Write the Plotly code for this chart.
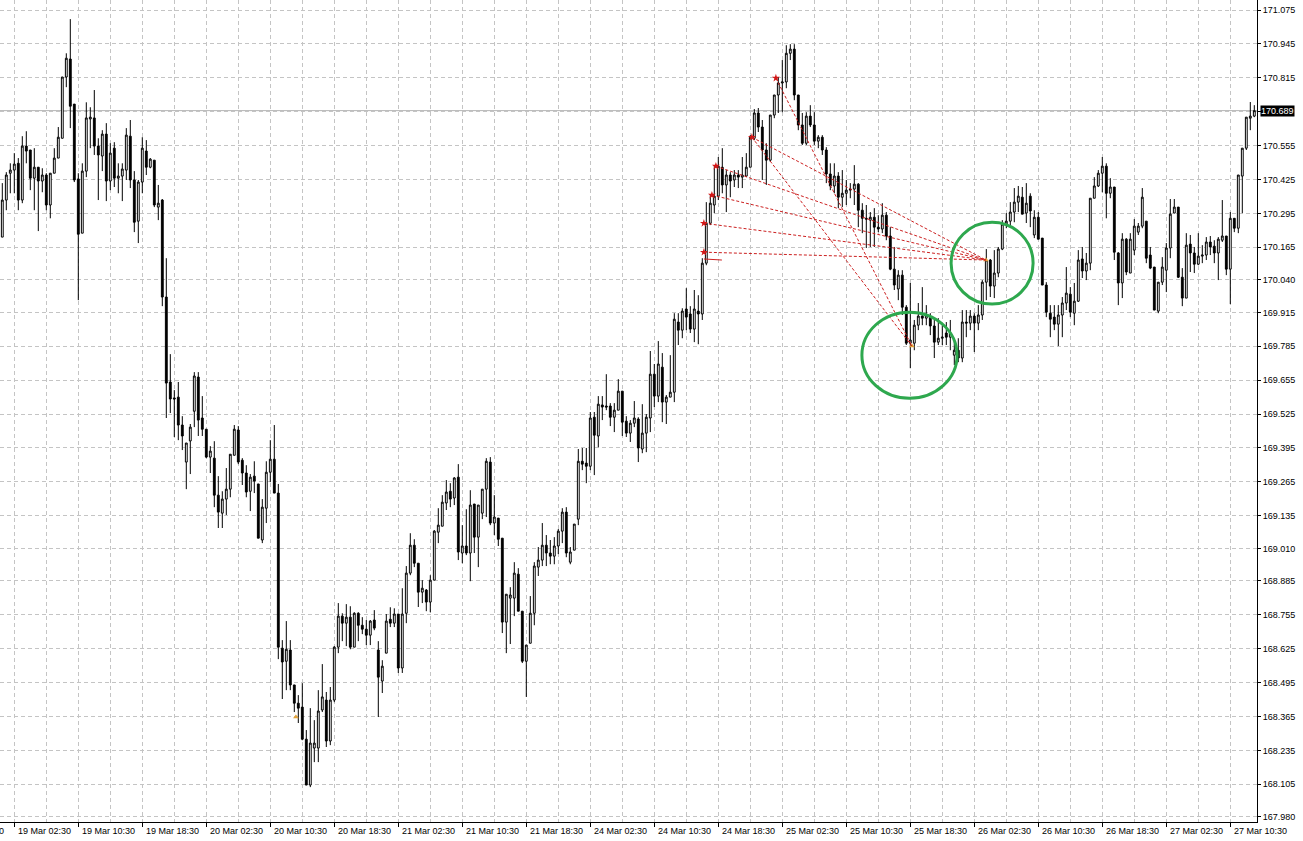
import pandas as pd
import plotly.graph_objects as go

# ---- bar times: 30-minute bars, weekend skipped ----
times = [t for t in pd.date_range("2025-03-19 01:00", "2025-03-27 13:30", freq="30min") if t.weekday() < 5]

open_ = [
170.204,170.346,170.449,170.461,170.487,170.346,170.553,170.538,170.430,170.472,
170.419,170.442,170.327,170.449,170.507,170.583,170.818,170.887,170.714,170.427,
170.219,170.457,170.657,170.661,170.553,170.515,170.599,170.419,170.545,170.430,
170.438,170.461,170.591,170.423,170.265,170.415,170.534,170.472,170.499,170.319,
170.346,169.974,169.648,169.587,169.590,169.483,169.341,169.422,169.536,169.667,
169.510,169.467,169.360,169.356,169.214,169.145,169.199,169.237,169.367,169.464,
169.348,169.299,169.229,169.287,169.257,169.042,169.164,169.302,169.352,169.222,
168.627,168.577,168.620,168.486,168.416,168.401,168.278,168.102,168.244,168.244,
168.390,168.428,168.271,168.428,168.631,168.750,168.723,168.746,168.631,168.761,
168.715,168.700,168.677,168.735,168.620,168.501,168.608,168.738,168.723,168.758,
168.551,168.761,168.915,169.022,168.953,168.842,168.850,168.804,168.888,169.072,
169.095,169.184,169.229,169.203,169.283,168.992,169.019,168.992,169.180,169.053,
169.145,169.237,169.341,169.107,169.126,169.049,168.727,168.819,168.819,168.911,
168.769,168.577,168.646,168.761,168.938,168.965,169.022,168.992,168.980,169.019,
169.076,169.149,168.957,169.003,169.122,169.344,169.337,169.325,169.513,169.441,
169.560,169.556,169.556,169.513,169.540,169.613,169.498,169.452,169.490,169.506,
169.391,169.452,169.510,169.678,169.594,169.705,169.571,169.590,169.609,169.878,
169.847,169.928,169.909,169.851,169.920,169.909,170.104,170.257,170.327,170.361,
170.472,170.404,170.442,170.423,170.442,170.434,170.438,170.472,170.583,170.680,
170.626,170.538,170.499,170.672,170.749,170.795,170.799,170.909,170.925,170.749,
170.634,170.564,170.668,170.634,170.572,170.587,170.538,170.446,170.400,170.438,
170.357,170.372,170.384,170.388,170.407,170.307,170.276,170.269,170.280,170.242,
170.235,170.288,170.208,170.081,170.005,170.058,169.935,169.797,169.797,169.866,
169.901,169.893,169.897,169.863,169.801,169.816,169.836,169.820,169.751,169.770,
169.740,169.878,169.874,169.901,169.874,169.905,170.031,170.116,170.016,170.066,
170.158,170.254,170.265,170.300,170.338,170.357,170.296,170.361,170.212,170.280,
170.200,170.020,169.912,169.897,169.870,169.905,169.951,169.985,169.912,169.958,
170.120,170.074,170.104,170.353,170.400,170.449,170.476,170.372,170.396,170.143,
170.028,170.196,170.066,170.154,170.223,170.246,170.265,170.135,170.089,169.920,
170.031,170.077,170.162,170.296,170.319,170.050,169.970,170.177,170.143,170.100,
170.131,170.135,170.185,170.169,170.143,170.192,170.208,170.081,170.276,170.238,
170.438,170.545,170.660,170.668]

high = [
170.411,170.453,170.487,170.526,170.507,170.591,170.610,170.538,170.545,170.472,
170.468,170.449,170.449,170.545,170.626,170.818,170.909,171.040,170.714,170.449,
170.487,170.721,170.702,170.768,170.583,170.614,170.641,170.564,170.568,170.487,
170.487,170.622,170.653,170.457,170.423,170.587,170.576,170.507,170.499,170.404,
170.350,170.123,169.755,169.617,169.648,169.517,169.414,169.487,169.686,169.686,
169.594,169.467,169.402,169.421,169.287,169.229,169.318,169.371,169.483,169.479,
169.356,169.329,169.295,169.344,169.257,169.199,169.344,169.425,169.483,169.257,
168.658,168.731,168.658,168.486,168.447,168.493,168.313,168.397,168.351,168.466,
168.566,168.459,168.478,168.635,168.800,168.761,168.796,168.788,168.765,168.765,
168.746,168.735,168.735,168.773,168.654,168.581,168.758,168.784,168.780,168.758,
168.857,168.942,169.068,169.045,168.953,168.888,168.854,168.907,169.080,169.164,
169.214,169.272,169.260,169.283,169.333,169.099,169.160,169.233,169.180,169.176,
169.237,169.356,169.360,169.214,169.126,169.049,168.834,168.861,168.957,168.934,
168.769,168.639,168.827,168.957,169.015,169.107,169.061,169.042,169.053,169.084,
169.164,169.168,169.015,169.103,169.391,169.395,169.395,169.533,169.533,169.594,
169.594,169.678,169.567,169.567,169.659,169.613,169.517,169.502,169.575,169.513,
169.563,169.525,169.767,169.717,169.805,169.759,169.598,169.751,169.912,169.912,
169.931,170.008,169.939,170.001,169.981,170.123,170.338,170.365,170.476,170.511,
170.545,170.461,170.453,170.461,170.461,170.511,170.526,170.595,170.695,170.699,
170.653,170.564,170.672,170.749,170.818,170.883,170.940,170.944,170.944,170.749,
170.680,170.683,170.710,170.683,170.595,170.595,170.549,170.487,170.487,170.453,
170.461,170.423,170.411,170.480,170.411,170.334,170.327,170.300,170.315,170.288,
170.334,170.300,170.242,170.166,170.077,170.077,169.943,170.028,169.886,169.951,
170.012,169.943,169.912,169.886,169.893,169.866,169.878,169.886,169.809,169.816,
169.924,169.924,169.924,169.912,169.943,170.039,170.158,170.120,170.154,170.166,
170.269,170.296,170.338,170.392,170.400,170.396,170.411,170.372,170.307,170.300,
170.200,170.031,169.943,169.943,169.943,169.974,170.089,170.012,170.028,170.154,
170.166,170.143,170.353,170.434,170.461,170.511,170.487,170.430,170.396,170.146,
170.219,170.200,170.219,170.273,170.258,170.392,170.265,170.166,170.089,170.031,
170.127,170.181,170.350,170.350,170.319,170.085,170.219,170.212,170.166,170.219,
170.173,170.204,170.208,170.192,170.204,170.346,170.208,170.300,170.276,170.442,
170.545,170.664,170.722,170.710]

low = [
170.204,170.307,170.372,170.372,170.307,170.334,170.487,170.384,170.307,170.227,
170.376,170.307,170.276,170.449,170.507,170.583,170.779,170.622,170.415,169.962,
170.219,170.434,170.545,170.519,170.346,170.457,170.342,170.384,170.396,170.372,
170.342,170.423,170.392,170.223,170.181,170.372,170.442,170.468,170.319,170.269,
169.939,169.510,169.529,169.437,169.425,169.387,169.237,169.295,169.475,169.441,
169.441,169.356,169.299,169.168,169.088,169.088,169.138,169.206,169.367,169.333,
169.253,169.206,169.153,169.222,169.049,169.030,169.107,169.264,169.222,168.585,
168.432,168.466,168.466,168.382,168.340,168.274,168.102,168.094,168.190,168.190,
168.382,168.248,168.255,168.420,168.608,168.654,168.635,168.623,168.631,168.654,
168.681,168.639,168.639,168.696,168.363,168.455,168.608,168.708,168.708,168.532,
168.532,168.723,168.907,168.938,168.785,168.800,168.769,168.765,168.888,169.030,
169.095,169.157,169.168,169.176,168.965,168.953,168.984,168.884,168.992,168.938,
169.122,169.130,169.099,169.061,169.019,168.685,168.608,168.643,168.750,168.769,
168.570,168.440,168.646,168.715,168.904,168.942,168.942,168.949,168.949,168.988,
169.030,168.976,168.949,169.003,169.099,169.310,169.260,169.310,169.291,169.398,
169.502,169.540,169.479,169.456,169.540,169.441,169.437,169.418,169.475,169.341,
169.375,169.379,169.456,169.552,169.571,169.494,169.487,169.590,169.571,169.790,
169.816,169.847,169.836,169.801,169.793,169.886,170.096,170.250,170.296,170.346,
170.372,170.300,170.357,170.396,170.392,170.392,170.434,170.472,170.576,170.607,
170.423,170.404,170.492,170.660,170.680,170.683,170.775,170.883,170.729,170.614,
170.557,170.557,170.626,170.557,170.545,170.519,170.411,170.384,170.372,170.315,
170.319,170.327,170.353,170.327,170.242,170.219,170.162,170.166,170.166,170.223,
170.219,170.192,170.077,170.001,169.962,169.905,169.790,169.701,169.770,169.847,
169.866,169.866,169.828,169.740,169.790,169.790,169.790,169.770,169.713,169.724,
169.724,169.820,169.847,169.763,169.847,169.886,169.962,169.974,169.970,170.050,
170.154,170.238,170.242,170.261,170.300,170.292,170.258,170.242,170.200,170.196,
170.020,169.897,169.820,169.847,169.786,169.820,169.924,169.897,169.866,169.955,
170.047,170.039,170.077,170.353,170.396,170.376,170.276,170.353,170.116,169.943,
169.970,170.058,170.066,170.135,170.212,170.238,170.104,170.081,169.924,169.912,
170.020,169.993,170.123,170.296,170.047,169.939,169.970,170.070,170.066,170.096,
170.104,170.116,170.135,170.104,170.039,170.185,170.058,169.947,170.223,170.219,
170.296,170.538,170.614,170.664]

close = [
170.346,170.442,170.461,170.484,170.346,170.553,170.534,170.430,170.472,170.419,
170.442,170.327,170.449,170.507,170.587,170.818,170.890,170.706,170.423,170.215,
170.457,170.661,170.664,170.553,170.519,170.599,170.419,170.526,170.430,170.438,
170.465,170.595,170.423,170.261,170.415,170.545,170.472,170.503,170.327,170.334,
169.974,169.644,169.583,169.583,169.483,169.441,169.414,169.475,169.671,169.502,
169.467,169.360,169.383,169.214,169.149,169.199,169.237,169.371,169.467,169.341,
169.299,169.226,169.283,169.268,169.049,169.168,169.302,169.352,169.222,168.631,
168.574,168.623,168.486,168.416,168.397,168.278,168.102,168.263,168.263,168.386,
168.440,168.271,168.428,168.631,168.750,168.723,168.746,168.631,168.761,168.715,
168.700,168.677,168.731,168.704,168.516,168.558,168.731,168.723,168.758,168.551,
168.758,168.915,169.022,168.953,168.842,168.857,168.804,168.888,169.076,169.099,
169.187,169.226,169.199,169.280,168.996,169.019,168.992,169.176,169.053,169.176,
169.237,169.344,169.107,169.130,169.045,168.727,168.834,168.831,168.915,168.769,
168.577,168.639,168.761,168.942,168.965,169.022,168.992,168.980,169.019,169.076,
169.149,168.992,168.996,169.103,169.344,169.333,169.325,169.510,169.444,169.563,
169.552,169.552,169.513,169.540,169.613,169.494,169.452,169.490,169.510,169.395,
169.452,169.513,169.678,169.594,169.717,169.571,169.590,169.609,169.889,169.847,
169.920,169.897,169.851,169.928,169.909,170.104,170.257,170.334,170.361,170.476,
170.404,170.442,170.419,170.442,170.434,170.442,170.472,170.587,170.680,170.626,
170.538,170.499,170.672,170.749,170.795,170.799,170.909,170.925,170.749,170.634,
170.564,170.668,170.634,170.572,170.587,170.538,170.446,170.400,170.438,170.357,
170.372,170.384,170.388,170.407,170.307,170.276,170.273,170.280,170.242,170.235,
170.288,170.208,170.081,170.020,170.058,169.935,169.797,169.809,169.866,169.901,
169.893,169.905,169.863,169.801,169.816,169.820,169.820,169.836,169.770,169.740,
169.878,169.874,169.901,169.874,169.905,170.031,170.116,170.016,170.066,170.158,
170.254,170.265,170.300,170.338,170.361,170.292,170.334,170.304,170.280,170.196,
170.020,169.916,169.889,169.870,169.905,169.951,169.989,169.916,169.958,170.116,
170.074,170.104,170.353,170.400,170.449,170.476,170.372,170.396,170.146,170.028,
170.196,170.070,170.196,170.246,170.246,170.357,170.123,170.085,169.924,170.031,
170.089,170.162,170.292,170.319,170.050,169.970,170.173,170.143,170.100,170.131,
170.135,170.185,170.166,170.143,170.196,170.208,170.081,170.276,170.238,170.442,
170.545,170.664,170.668,170.689]

# price-scale labels (right axis); 170.685 is hidden behind the current-price tag
price_ticks = [167.980, 168.105, 168.235, 168.365, 168.495, 168.625, 168.755, 168.885,
               169.010, 169.135, 169.265, 169.395, 169.525, 169.655, 169.785, 169.915,
               170.040, 170.165, 170.295, 170.425, 170.555, 170.685, 170.815, 170.945, 171.075]
current_price = 170.689

# analysis overlay (bar position, price)
signal_bar = [193.4, 187.4, 178.4, 177.4, 175.4, 175.4]
signal_price = [170.814, 170.587, 170.476, 170.365, 170.257, 170.146]
target_bar = [227.4, 245.9]
target_price = [169.786, 170.116]
signal_links = [(0, 0), (1, 0), (1, 1), (2, 1), (3, 1), (4, 1), (5, 1)]
misc_bar = [73.4]
misc_price = [168.363]

n = len(times)
xs = list(range(n))
FONT = "Liberation Sans"

fig = go.Figure()
fig.add_trace(go.Candlestick(
    x=xs, open=open_, high=high, low=low, close=close,
    increasing=dict(fillcolor="white", line=dict(color="black", width=1)),
    decreasing=dict(fillcolor="black", line=dict(color="black", width=1)),
    hoverinfo="skip", showlegend=False))

fig.add_trace(go.Scatter(x=signal_bar, y=signal_price, mode="markers",
                         marker=dict(symbol="star", size=6, color="#d41515"),
                         hoverinfo="skip", showlegend=False))
fig.add_trace(go.Scatter(x=target_bar + misc_bar, y=target_price + misc_price, mode="markers",
                         marker=dict(symbol="triangle-up", size=5, color="#e3a33a"),
                         hoverinfo="skip", showlegend=False))

shapes = []
# bid line
shapes.append(dict(type="line", xref="paper", x0=0, x1=1, yref="y",
                   y0=current_price, y1=current_price,
                   line=dict(color="#b4b4b4", width=1), layer="below"))
# dashed red links
for s, t in signal_links:
    shapes.append(dict(type="line", xref="x", yref="y",
                       x0=signal_bar[s], y0=signal_price[s],
                       x1=target_bar[t], y1=target_price[t],
                       line=dict(color="#cc2020", width=1, dash="3px,2px"), layer="above"))
shapes.append(dict(type="line", xref="x", yref="y", x0=175.4, y0=170.120, x1=179.9, y1=170.116,
                   line=dict(color="#cc2020", width=1), layer="above"))
# green circles
shapes.append(dict(type="circle", xref="x", yref="y", x0=214.9, x1=238.7, y0=169.586, y1=169.916,
                   line=dict(color="#2ea84e", width=3), layer="above"))
shapes.append(dict(type="circle", xref="x", yref="y", x0=237.2, x1=257.7, y0=169.947, y1=170.261,
                   line=dict(color="#2ea84e", width=3), layer="above"))

# time labels (left-aligned at their ticks, MT4 style)
label_bars = list(range(3, n, 16))
annotations = []
for k in label_bars:
    annotations.append(dict(x=k, xref="x", y=0, yref="paper", xanchor="left", yanchor="top",
                            xshift=2, yshift=-2, showarrow=False,
                            text=times[k].strftime("%d %b %H:%M"),
                            font=dict(family=FONT, size=9, color="black")))
prev_label = times[3] - pd.Timedelta(hours=8)
annotations.append(dict(x=0, xref="paper", y=0, yref="paper", xanchor="right", yanchor="top",
                        xshift=6, yshift=-2, showarrow=False,
                        text=prev_label.strftime("%d %b %H:%M"),
                        font=dict(family=FONT, size=9, color="black")))
# current price tag
annotations.append(dict(x=1, xref="paper", y=current_price, yref="y", xanchor="left",
                        yanchor="middle", xshift=3, showarrow=False,
                        text=f"{current_price:.3f}", bgcolor="black", borderpad=0,
                        font=dict(family=FONT, size=9, color="white")))

grid = dict(gridcolor="#c4c4c4", griddash="4px,3px", gridwidth=1)

fig.update_layout(
    width=1303, height=841,
    margin=dict(l=0, r=46, t=0, b=19),
    paper_bgcolor="white", plot_bgcolor="white",
    showlegend=False, boxgap=0.35, hovermode=False,
    shapes=shapes, annotations=annotations,
    xaxis=dict(range=[-0.575, 313.675], rangeslider=dict(visible=False),
               tickmode="array", tickvals=label_bars, showticklabels=False,
               ticks="outside", ticklen=4, tickcolor="black",
               showgrid=True, **grid,
               minor=dict(tickvals=[k + 8 for k in label_bars], showgrid=True,
                          gridcolor="#c4c4c4", griddash="4px,3px", ticks=""),
               showline=True, linecolor="black", linewidth=1, zeroline=False,
               automargin=False, fixedrange=True),
    yaxis=dict(side="right", range=[167.9603, 171.1134],
               tickmode="array", tickvals=price_ticks,
               ticktext=["" if abs(v - 170.685) < 1e-9 else f"{v:.3f}" for v in price_ticks],
               ticks="outside", ticklen=3, tickcolor="black",
               tickfont=dict(family=FONT, size=9, color="black"),
               showgrid=True, **grid,
               showline=True, linecolor="black", linewidth=1, zeroline=False,
               automargin=False, fixedrange=True),
)

fig.write_html("out.html", config={"displayModeBar": False},
               post_script="document.body.style.margin='0px';document.body.style.overflow='hidden';")
